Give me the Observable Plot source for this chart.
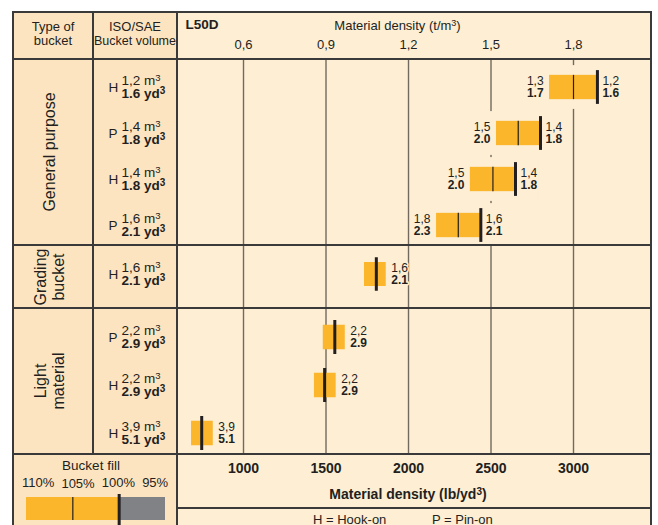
<!DOCTYPE html>
<html><head><meta charset="utf-8">
<script src="https://cdn.jsdelivr.net/npm/d3@7"></script>
<script src="https://cdn.jsdelivr.net/npm/@observablehq/plot@0.6"></script>
<style>
html,body{margin:0;padding:0;background:#fff;}
body{width:658px;height:525px;overflow:hidden;position:relative;font-family:'Liberation Sans',Arial,Helvetica,sans-serif;color:#231f20;}
#t{position:absolute;left:12px;top:11px;border-collapse:separate;border-spacing:0;border-left:2px solid #3a3a3a;border-top:2px solid #3a3a3a;}
#t td{padding:0;border-right:2px solid #3a3a3a;border-bottom:2px solid #3a3a3a;vertical-align:top;}
.peach{background:#fde4c1;}
.cream{background:#fdeed4;}
.c1{width:78px;} .c2{width:82px;} .c3{width:472px;}
.hd{text-align:center;font-size:13px;line-height:13.5px;white-space:nowrap;}
.hd div{padding-top:7px;}
.grp{position:relative;}
.grp div{position:absolute;left:36px;top:50%;transform:translate(-50%,-50%) rotate(-90deg);font-size:16px;line-height:18px;text-align:center;white-space:nowrap;}
#fill{position:relative;}
#fill .bf{position:absolute;left:0;top:3px;width:154px;text-align:center;font-size:13.5px;line-height:16px;}
#fill .pct{position:absolute;left:8px;top:19.5px;font-size:13px;line-height:16px;white-space:nowrap;word-spacing:3.5px;}
#fill .pct span.low{position:relative;top:1.5px;}
#fill .lg{position:absolute;left:0;top:37px;}
#key{font-size:13px;line-height:16px;padding-top:3px!important;height:20px;white-space:nowrap;}
#key span{display:inline-block;}
svg{display:block;}
</style></head>
<body>
<table id="t">
<tr>
 <td class="c1 peach hd"><div>Type of<br>bucket</div></td>
 <td class="c2 peach hd"><div>ISO/SAE<br><span style="font-size:12.5px">Bucket volume</span></div></td>
 <td class="c3 cream" id="hdr"></td>
</tr>
<tr><td class="c1 peach grp" id="gl0"></td><td class="c2 peach" id="gv0"></td><td class="c3 cream" id="gp0"></td></tr>
<tr><td class="c1 peach grp" id="gl1"></td><td class="c2 peach" id="gv1"></td><td class="c3 cream" id="gp1"></td></tr>
<tr><td class="c1 peach grp" id="gl2"></td><td class="c2 peach" id="gv2"></td><td class="c3 cream" id="gp2"></td></tr>
<tr>
 <td class="peach" id="fill" colspan="2" rowspan="2"></td>
 <td class="c3 cream" id="foot"></td>
</tr>
<tr><td class="c3 cream" id="key"></td></tr>
</table>
<script>
// ---------- data ----------
const groupNames = ["General purpose", "Grading\nbucket", "Light\nmaterial"];
const rowGroup   = [0, 0, 0, 0, 1, 2, 2, 2];
const attachment = ["H", "P", "H", "P", "H", "P", "H", "H"];
const volumeM3   = ["1,2", "1,4", "1,4", "1,6", "1,6", "2,2", "2,2", "3,9"];
const volumeYd3  = ["1.6", "1.8", "1.8", "2.1", "2.1", "2.9", "2.9", "5.1"];
const lowFillM3  = ["1,3", "1,5", "1,5", "1,8", "", "", "", ""];
const lowFillYd3 = ["1.7", "2.0", "2.0", "2.3", "", "", "", ""];
// material density (t/m3)
const barStart = [1.713, 1.520, 1.425, 1.302, 1.040, 0.890, 0.858, 0.411];
const barEnd   = [1.887, 1.680, 1.589, 1.463, 1.119, 0.970, 0.937, 0.490];
const fill105  = [1.800, 1.599, 1.507, 1.381, null, null, null, null];
const fill100  = [1.887, 1.680, 1.589, 1.463, 1.083, 0.932, 0.895, 0.448];
const densityTicks = [0.6, 0.9, 1.2, 1.5, 1.8];
const lbTicks = [1000, 1500, 2000, 2500, 3000];
const fillLevels = [110, 105, 100, 95];
const attachKey = ["H = Hook-on", "P = Pin-on"];

// ---------- style ----------
const FONT = "'Liberation Sans', Arial, Helvetica, sans-serif";
const INK = "#231f20", CREAM = "#fdeed4", PEACH = "#fde4c1", YELLOW = "#fbb62c", GREY = "#808285", GRID = "#726a5e";
const xDomain = [0.3636, 2.08];
const LB_PER_T = 1000 / 0.6; // lb/yd3 axis aligned as printed
const layout = [{h: 184, o: 4, s: 46.2}, {h: 61, o: 5, s: 46.5}, {h: 144, o: 4, s: 48}];

const rows = attachment.map((a, i) => ({
  id: i, group: rowGroup[i], attach: a, m3: volumeM3[i], yd3: volumeYd3[i],
  lowM3: lowFillM3[i], lowYd3: lowFillYd3[i],
  start: barStart[i], end: barEnd[i], thin: fill105[i], thick: fill100[i]
}));

// text with a superscript part, built from several text marks
const ctx = document.createElement("canvas").getContext("2d");
function tw(s, size, weight) { ctx.font = `${weight || "normal"} ${size}px ${FONT}`; return ctx.measureText(s).width; }
function supText(data, parts, o) {
  const {fontSize, supSize, fontWeight = "normal", anchor = "start", dx = 0, dy = 0, raise = 2.6} = o;
  const d0 = data[0];
  const texts = parts.map(([p, sup]) => ({f: typeof p === "function" ? p : () => p, sup}));
  const widths = texts.map(t => tw(t.f(d0), t.sup ? supSize : fontSize, fontWeight));
  const W = d3.sum(widths);
  let acc = anchor === "middle" ? -W / 2 : anchor === "end" ? -W : 0;
  return texts.map((t, i) => {
    const m = Plot.text(data, {
      x: o.x, y: o.y, frameAnchor: o.frameAnchor, text: t.f, textAnchor: "start", lineAnchor: "middle",
      dx: dx + acc, dy: t.sup ? dy - raise : dy, fontSize: t.sup ? supSize : fontSize, fontWeight, fill: INK
    });
    acc += widths[i];
    return m;
  });
}

// ---------- header ----------
document.getElementById("hdr").append(Plot.plot({
  width: 472, height: 45, marginTop: 35, marginBottom: 10, marginLeft: 0, marginRight: 0,
  x: {domain: xDomain},
  style: {background: CREAM, fontFamily: FONT, color: INK},
  marks: [
    Plot.axisX({ticks: densityTicks, anchor: "top", tickSize: 0, tickPadding: 0, fontSize: 13, label: null,
      tickFormat: d => d.toFixed(1).replace(".", ",")}),
    ...supText([0], [["Material density (t/m"], ["3", true], [")"]],
      {frameAnchor: "top", anchor: "middle", dx: -17, dy: -23, fontSize: 13, supSize: 9}),
    Plot.text(["L50D"], {frameAnchor: "top-left", lineAnchor: "middle", text: d => d, dx: 7, dy: -24, textAnchor: "start", fontSize: 13.5, fontWeight: "bold", fill: INK})
  ]
}));

// ---------- groups ----------
layout.forEach((L, g) => {
  const gr = rows.filter(d => d.group === g);
  const yOpt = {type: "band", domain: gr.map(d => d.id), range: [L.o, L.o + L.s * gr.length], padding: 0, axis: null};
  const barInset = (L.s - 24.5) / 2, thickInset = (L.s - 34) / 2, backInset = (L.s - 44) / 2;
  const lab = document.createElement("div");
  lab.innerHTML = groupNames[g].replace("\n", "<br>");
  document.getElementById("gl" + g).append(lab);

  document.getElementById("gv" + g).append(Plot.plot({
    width: 82, height: L.h, margin: 0,
    y: yOpt,
    style: {background: PEACH, fontFamily: FONT, color: INK},
    marks: [
      Plot.text(gr, {y: "id", frameAnchor: "left", dx: 14, text: "attach", fontSize: 13.5, fill: INK}),
      ...supText(gr, [[d => d.m3 + " m"], ["3", true]], {y: "id", frameAnchor: "left", dx: 27, dy: -7, fontSize: 13.5, supSize: 9.5}),
      ...supText(gr, [[d => d.yd3 + " yd"], ["3", true]], {y: "id", frameAnchor: "left", dx: 27, dy: 6, fontSize: 13.5, supSize: 10, fontWeight: "bold"})
    ]
  }));

  const low = gr.filter(d => d.lowM3);
  const halo = {fill: INK, stroke: CREAM, strokeWidth: 3, paintOrder: "stroke", fontSize: 12};
  document.getElementById("gp" + g).append(Plot.plot({
    width: 472, height: L.h, margin: 0,
    x: {domain: xDomain, axis: null},
    y: yOpt,
    style: {background: CREAM, fontFamily: FONT, color: INK},
    marks: [
      Plot.ruleX(densityTicks, {stroke: GRID, strokeWidth: 1.4}),
      // cream backing behind the labelled bars (breaks the grid lines as printed)
      Plot.barX(low, {x1: "start", x2: "end", y: "id", fill: CREAM, insetLeft: -25, insetRight: -24, insetTop: backInset, insetBottom: backInset}),
      Plot.barX(gr, {x1: "start", x2: "end", y: "id", fill: YELLOW, insetTop: barInset, insetBottom: barInset}),
      Plot.tickX(gr.filter(d => d.thin != null), {x: "thin", y: "id", stroke: INK, strokeWidth: 1.2, insetTop: barInset, insetBottom: barInset}),
      Plot.tickX(gr, {x: "thick", y: "id", stroke: INK, strokeWidth: 3, insetTop: thickInset, insetBottom: thickInset}),
      Plot.text(low, {x: "start", y: "id", text: "lowM3", dx: -6, dy: -6, textAnchor: "end", ...halo}),
      Plot.text(low, {x: "start", y: "id", text: "lowYd3", dx: -6, dy: 6, textAnchor: "end", fontWeight: "bold", ...halo}),
      Plot.text(gr, {x: "end", y: "id", text: "m3", dx: 5, dy: -6, textAnchor: "start", ...halo}),
      Plot.text(gr, {x: "end", y: "id", text: "yd3", dx: 5, dy: 6, textAnchor: "start", fontWeight: "bold", ...halo})
    ]
  }));
});

// ---------- footer axis ----------
document.getElementById("foot").append(Plot.plot({
  width: 472, height: 52, marginTop: 17, marginBottom: 0, marginLeft: 0, marginRight: 0,
  x: {domain: xDomain.map(t => t * LB_PER_T)},
  style: {background: CREAM, fontFamily: FONT, color: INK},
  marks: [
    Plot.axisX({ticks: lbTicks, anchor: "top", tickSize: 0, tickPadding: 0, fontSize: 14, fontWeight: "bold", label: null, tickFormat: d => String(d)}),
    ...supText([0], [["Material density (lb/yd"], ["3", true], [")"]],
      {frameAnchor: "top", anchor: "middle", dx: -6.5, dy: 22, fontSize: 14, supSize: 10, fontWeight: "bold", raise: 3})
  ]
}));

// ---------- key ----------
const key = document.getElementById("key");
key.innerHTML = `<span style="margin-left:135px;width:119px">${attachKey[0]}</span><span>${attachKey[1]}</span>`;

// ---------- bucket fill legend ----------
const fill = document.getElementById("fill");
fill.innerHTML = `<div class="bf">Bucket fill</div><div class="pct">${fillLevels.map(p => p === 105 ? `<span class="low">${p}%</span>` : `${p}%`).join(" ")}</div>`;
const lgDiv = document.createElement("div");
lgDiv.className = "lg";
const segs = [{from: fillLevels[0], to: fillLevels[2], color: YELLOW}, {from: fillLevels[2], to: fillLevels[3], color: GREY}];
lgDiv.append(Plot.plot({
  width: 162, height: 33, marginTop: 5, marginBottom: 5, marginLeft: 12, marginRight: 11,
  x: {domain: [fillLevels[0], fillLevels[3]], axis: null},
  style: {background: "transparent", overflow: "visible"},
  marks: [
    Plot.rect(segs, {x1: "from", x2: "to", fill: d => d.color}),
    Plot.ruleX([fillLevels[1]], {stroke: INK, strokeWidth: 1.2}),
    Plot.ruleX([fillLevels[2]], {stroke: INK, strokeWidth: 3, insetTop: -3, insetBottom: -5})
  ]
}));
fill.append(lgDiv);
</script>
</body></html>
